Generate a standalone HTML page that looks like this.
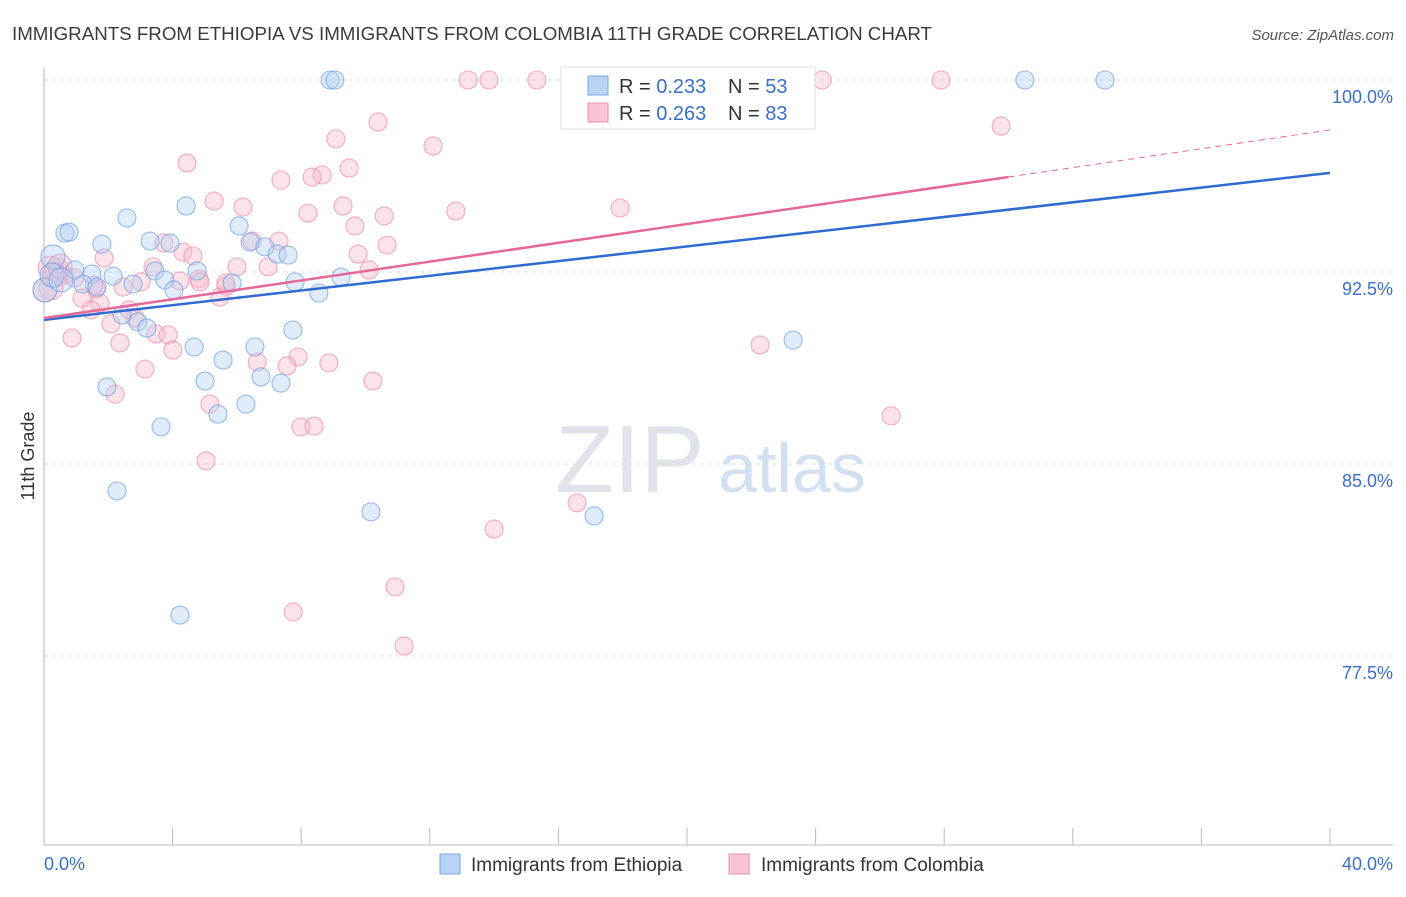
<!DOCTYPE html>
<html><head><meta charset="utf-8"><style>
body{margin:0;background:#fff;font-family:"Liberation Sans",sans-serif;}
svg text{font-family:"Liberation Sans",sans-serif;}
</style></head><body>
<svg id="chart" width="1406" height="892">
<text x="12" y="40" font-size="18" fill="#3a3a3a" textLength="920" lengthAdjust="spacingAndGlyphs">IMMIGRANTS FROM ETHIOPIA VS IMMIGRANTS FROM COLOMBIA 11TH GRADE CORRELATION CHART</text>
<text x="1394" y="40" font-size="15" fill="#555" font-style="italic" text-anchor="end">Source: ZipAtlas.com</text>
<text x="34" y="456" font-size="18" fill="#333" text-anchor="middle" transform="rotate(-90 34 456)">11th Grade</text>
<text x="555" y="492" font-size="96" fill="#e0e3e9" font-family="Liberation Serif">ZIP</text>
<text x="718" y="492" font-size="70" fill="#d3e0f2">atlas</text>
<g id="grid"></g><g id="axes"></g><g id="pts"></g><g id="lines"></g>
<g>
<rect x="561" y="67" width="254" height="62" fill="#fff" stroke="#ddd"/>
<rect x="588" y="76" width="20" height="19" fill="#b9d3f5" stroke="#7aa6e0"/>
<rect x="588" y="103" width="20" height="19" fill="#f9c5d5" stroke="#ec8fae"/>
<text x="619" y="93" font-size="20" fill="#333">R = <tspan fill="#3a6fc9">0.233</tspan></text>
<text x="728" y="93" font-size="20" fill="#333">N = <tspan fill="#3a6fc9">53</tspan></text>
<text x="619" y="120" font-size="20" fill="#333">R = <tspan fill="#3a6fc9">0.263</tspan></text>
<text x="728" y="120" font-size="20" fill="#333">N = <tspan fill="#3a6fc9">83</tspan></text>
</g>
<g>
<rect x="440" y="854" width="20" height="20" fill="#b9d3f5" stroke="#7aa6e0"/>
<text x="471" y="871" font-size="19" fill="#333">Immigrants from Ethiopia</text>
<rect x="729" y="854" width="20" height="20" fill="#f9c5d5" stroke="#ec8fae"/>
<text x="761" y="871" font-size="19" fill="#333">Immigrants from Colombia</text>
</g>
</svg>
<script>
const yTicks=[100,92.5,85,77.5];
const yTickLabels=["100.0%","92.5%","85.0%","77.5%"];
const xEndLabels=["0.0%","40.0%"];
const ethX=[8.90,9.05,30.51,33.00,0.28,0.65,0.78,2.58,4.42,6.07,1.80,3.30,3.92,6.41,6.87,7.25,7.59,0.96,1.49,2.15,3.45,3.76,4.76,5.85,7.81,8.55,9.24,1.21,1.65,2.77,4.04,2.43,2.92,3.20,4.67,5.57,6.56,7.74,23.30,1.96,5.01,6.75,7.37,5.41,6.28,3.64,2.27,10.17,17.11,4.23,0.03,0.25,0.53];
const ethY=[100,100,100,100,93.09,94.02,94.06,94.61,95.08,94.30,93.59,93.71,93.63,93.67,93.48,93.20,93.16,92.58,92.42,92.34,92.54,92.19,92.54,92.07,92.11,91.68,92.30,92.03,91.91,92.03,91.80,90.82,90.55,90.31,89.57,89.06,89.57,90.23,89.84,88.01,88.24,88.40,88.16,86.95,87.34,86.45,83.95,83.13,82.97,79.10,91.80,92.38,92.19];
const colX=[13.19,13.84,15.33,20.84,24.20,27.90,19.53,10.39,29.77,9.08,12.10,4.45,9.49,8.65,8.34,7.37,5.29,6.19,9.30,12.81,17.92,8.21,10.58,9.67,10.67,3.73,4.32,9.77,4.63,1.87,6.47,7.31,3.39,6.00,6.97,10.11,0.40,0.65,0.19,4.23,4.82,5.66,4.85,2.46,3.02,1.62,1.18,1.74,5.47,1.46,2.08,2.64,2.83,3.48,3.86,0.87,2.36,4.01,7.90,8.86,6.63,7.56,3.14,10.23,22.27,2.21,5.16,7.99,8.40,26.35,5.04,16.58,14.00,10.92,7.75,11.20,5.66,0.22,0.03,0.34,0.96,0.50,1.56];
const colY=[100,100,100,100,100,100,100,98.36,98.20,97.70,97.42,96.76,96.56,96.29,96.21,96.09,95.27,95.04,95.08,94.88,95.00,94.80,94.69,94.30,93.55,93.63,93.28,93.20,93.13,93.05,93.71,93.71,92.70,92.70,92.70,92.58,92.58,92.38,92.66,92.15,92.23,91.95,92.11,91.91,92.11,91.84,91.48,91.29,91.52,91.02,90.47,91.02,90.70,90.08,90.04,89.92,89.73,89.45,89.18,88.95,88.98,88.83,88.71,88.24,89.65,87.73,87.34,86.45,86.48,86.88,85.12,83.48,82.46,80.20,79.22,77.89,92.07,91.88,91.80,92.38,92.27,92.73,91.99];
const ethTrend=[90.63,96.37];
const colTrend=[90.70,98.05];
const colSolidEnd=30.0;
const NS="http://www.w3.org/2000/svg";
const X0=44,X1=1330,Y100=80,PX=25.6;
const sx=v=>X0+(v/40)*(X1-X0);
const sy=v=>Y100+(100-v)*PX;
function mk(tag,attrs,parent){const e=document.createElementNS(NS,tag);for(const k in attrs)e.setAttribute(k,attrs[k]);parent.appendChild(e);return e;}
const grid=document.getElementById('grid'),axes=document.getElementById('axes'),pts=document.getElementById('pts'),lines=document.getElementById('lines');
yTicks.forEach((t,i)=>{
 const l=mk('line',{x1:X0,x2:1393,y1:sy(t),y2:sy(t),stroke:'#ddd','stroke-dasharray':'4,4'},grid);
 
 
 const tx=mk('text',{x:1393,y:sy(t)+23,'font-size':18,fill:'#3a6fc9','text-anchor':'end'},grid);
 tx.textContent=yTickLabels[i];
 
 
});
const ya=mk('line',{x1:X0,x2:X0,y1:68,y2:845,stroke:'#bbb'},axes);


const xa=mk('line',{x1:X0,x2:1393,y1:845,y2:845,stroke:'#bbb'},axes);


for(let v=0;v<=40;v+=4){
 const t=mk('line',{x1:sx(v),x2:sx(v),y1:828,y2:845,stroke:'#bbb'},axes);
 
 
}
[[0,'start',44],[40,'end',1393]].forEach((a,i)=>{
 const t=mk('text',{x:a[2],y:870,'font-size':18,fill:'#3a6fc9','text-anchor':a[1]},axes);
 t.textContent=xEndLabels[i];
 
 
});
function dots(xs,ys,fill,stroke,name){
 xs.forEach((x,i)=>{
  const r=x<0.6?12:9;
  const c=mk('circle',{cx:sx(x),cy:sy(ys[i]),r:r,fill:fill,'fill-opacity':0.4,stroke:stroke,'stroke-opacity':0.7,'stroke-width':1.1},pts);
  
  
 });
}
dots(colX,colY,'#f7b8cb','#e98aaa','colombia-point');
dots(ethX,ethY,'#b3cff3','#6f9fe0','ethiopia-point');
const ycol=v=>colTrend[0]+(colTrend[1]-colTrend[0])*v/40;
const bl=mk('line',{x1:sx(0),y1:sy(ethTrend[0]),x2:sx(40),y2:sy(ethTrend[1]),stroke:'#2f6bd1','stroke-width':2.5},lines);


const pl=mk('line',{x1:sx(0),y1:sy(ycol(0)),x2:sx(colSolidEnd),y2:sy(ycol(colSolidEnd)),stroke:'#e5689a','stroke-width':2.5},lines);


const pd=mk('line',{x1:sx(colSolidEnd),y1:sy(ycol(colSolidEnd)),x2:sx(40),y2:sy(ycol(40)),stroke:'#e5689a','stroke-width':1,'stroke-dasharray':'6,5'},lines);


</script>
</body></html>
